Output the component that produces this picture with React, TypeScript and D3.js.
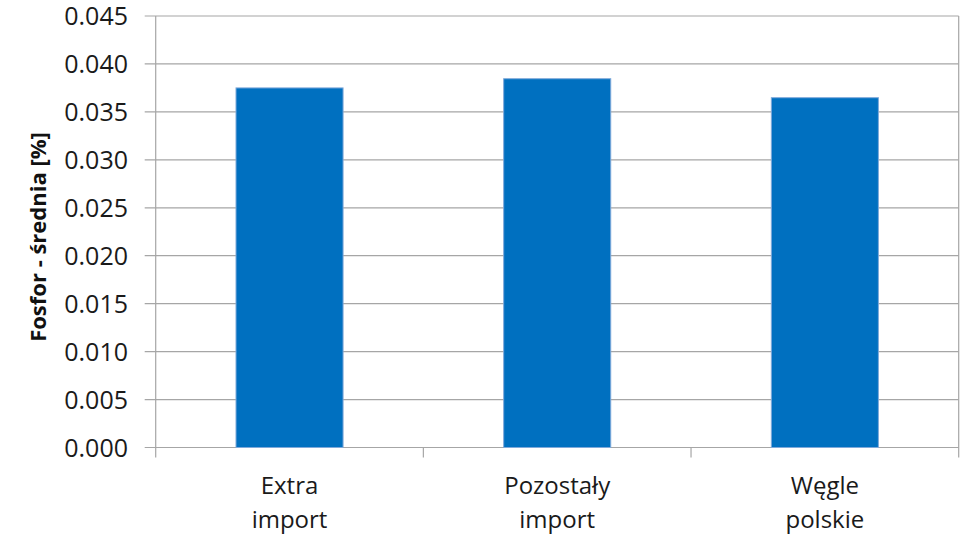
import React from "react";
import * as d3 from "d3";

const categories: string[][] = [
  ["Extra", "import"],
  ["Pozostały", "import"],
  ["Węgle", "polskie"],
];
const values: number[] = [0.0375, 0.03846, 0.03648];
const yTicks: number[] = [0, 0.005, 0.01, 0.015, 0.02, 0.025, 0.03, 0.035, 0.04, 0.045];
const yLabel = "Fosfor - średnia [%]";

const W = 965;
const H = 539;
const plot = { left: 155.7, right: 958.7, top: 16, bottom: 447.5 };
const FONT = "'Open Sans', 'Noto Sans', sans-serif";
const GRID = "#a6a6a6";
const TEXT = "#1a1a1a";

export default function App() {
  const keys = categories.map((c) => c.join(" "));
  const x = d3
    .scaleBand<string>()
    .domain(keys)
    .range([plot.left, plot.right])
    .paddingInner(0.6)
    .paddingOuter(0.3);
  const y = d3.scaleLinear().domain([0, 0.045]).range([plot.bottom, plot.top]);
  const step = x.step();
  const boundaries = d3.range(keys.length + 1).map((i) => plot.left + i * step);
  const fmt = d3.format(".3f");

  return (
    <svg
      width={W}
      height={H}
      style={{ position: "absolute", left: 0, top: 0, background: "#fff" }}
    >
      {yTicks.map((t) => (
        <g key={t}>
          <line
            x1={plot.left - 11}
            x2={plot.right}
            y1={y(t)}
            y2={y(t)}
            stroke={GRID}
            strokeWidth={1.2}
          />
          <text
            x={128}
            y={y(t)}
            dy="0.36em"
            textAnchor="end"
            fontFamily={FONT}
            fontSize={25}
            fill={TEXT}
          >
            {fmt(t)}
          </text>
        </g>
      ))}
      {/* axis frame */}
      <line x1={plot.left} x2={plot.left} y1={plot.top} y2={plot.bottom + 10} stroke={GRID} strokeWidth={1.2} />
      <line x1={plot.right} x2={plot.right} y1={plot.top} y2={plot.bottom + 10} stroke={GRID} strokeWidth={1.2} />
      {boundaries.slice(1, -1).map((b, i) => (
        <line key={i} x1={b} x2={b} y1={plot.bottom} y2={plot.bottom + 10} stroke={GRID} strokeWidth={1.2} />
      ))}
      {values.map((v, i) => (
        <rect
          key={keys[i]}
          x={x(keys[i])}
          y={y(v)}
          width={x.bandwidth()}
          height={y(0) - y(v)}
          fill="#0070c0"
          stroke="#7fa9da"
          strokeWidth={1}
        />
      ))}
      {categories.map((lines, i) => {
        const cx = (x(keys[i]) as number) + x.bandwidth() / 2;
        return (
          <text
            key={i}
            x={cx}
            y={494}
            textAnchor="middle"
            fontFamily={FONT}
            fontSize={24}
            fill={TEXT}
          >
            {lines.map((l, j) => (
              <tspan key={j} x={cx} dy={j === 0 ? 0 : 34}>
                {l}
              </tspan>
            ))}
          </text>
        );
      })}
      <text
        transform={`translate(46, 237) rotate(-90)`}
        textAnchor="middle"
        fontFamily={FONT}
        fontSize={22}
        fontWeight="bold"
        fill="#111"
      >
        {yLabel}
      </text>
    </svg>
  );
}
